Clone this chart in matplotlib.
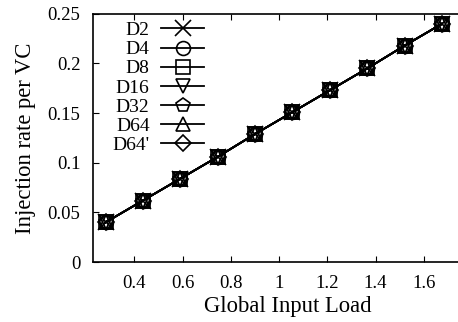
import numpy as np
import matplotlib
matplotlib.use("Agg")
import matplotlib.pyplot as plt

plt.rcParams['font.family'] = ['Liberation Serif', 'DejaVu Serif']

load = [0.28, 0.435, 0.59, 0.745, 0.90, 1.055, 1.21, 1.365, 1.52, 1.675]
rate = [0.040, 0.062, 0.084, 0.106, 0.129, 0.151, 0.173, 0.195, 0.218, 0.240]
series = ["D2", "D4", "D8", "D16", "D32", "D64", "D64'"]
markers = ['x', 'o', 's', 'v', 'p', '^', 'D']
msizes = [11, 10, 10, 10, 10, 10, 8]

fig = plt.figure(figsize=(4.58, 3.22), dpi=100)
# the plot box runs past the right edge of the picture
ax = fig.add_axes([0.203, 0.186, 0.852, 0.771])

for nome, mk, ms in zip(series, markers, msizes):
    ax.plot(load, rate, color='black', linewidth=1.3, marker=mk, markersize=ms,
            markerfacecolor='none', markeredgecolor='black', markeredgewidth=1.2,
            label=nome)

ax.set_xlim(0.228, 1.846)
ax.set_ylim(0, 0.25)
ax.set_xticks([0.4, 0.6, 0.8, 1.0, 1.2, 1.4, 1.6])
ax.set_xticklabels(['0.4', '0.6', '0.8', '1', '1.2', '1.4', '1.6'])
ax.set_yticks([0, 0.05, 0.1, 0.15, 0.2, 0.25])
ax.set_yticklabels(['0', '0.05', '0.1', '0.15', '0.2', '0.25'])
ax.tick_params(direction='in', length=4, width=0.8, labelsize=13.5, pad=9,
               top=True, right=True)
for s in ['left', 'top', 'bottom', 'right']:
    ax.spines[s].set_linewidth(1.2)

ax.set_xlabel('Global Input Load', fontsize=16.3, labelpad=3)
ax.set_ylabel('Injection rate per VC', fontsize=16.3, labelpad=8)

leg = ax.legend(loc='upper left', bbox_to_anchor=(0.02, 1.016), frameon=False,
                fontsize=14, markerfirst=False, handlelength=2.2,
                labelspacing=0.08, handletextpad=0.6, borderaxespad=0.2,
                alignment='right')

fig.savefig('out.png', dpi=100)
